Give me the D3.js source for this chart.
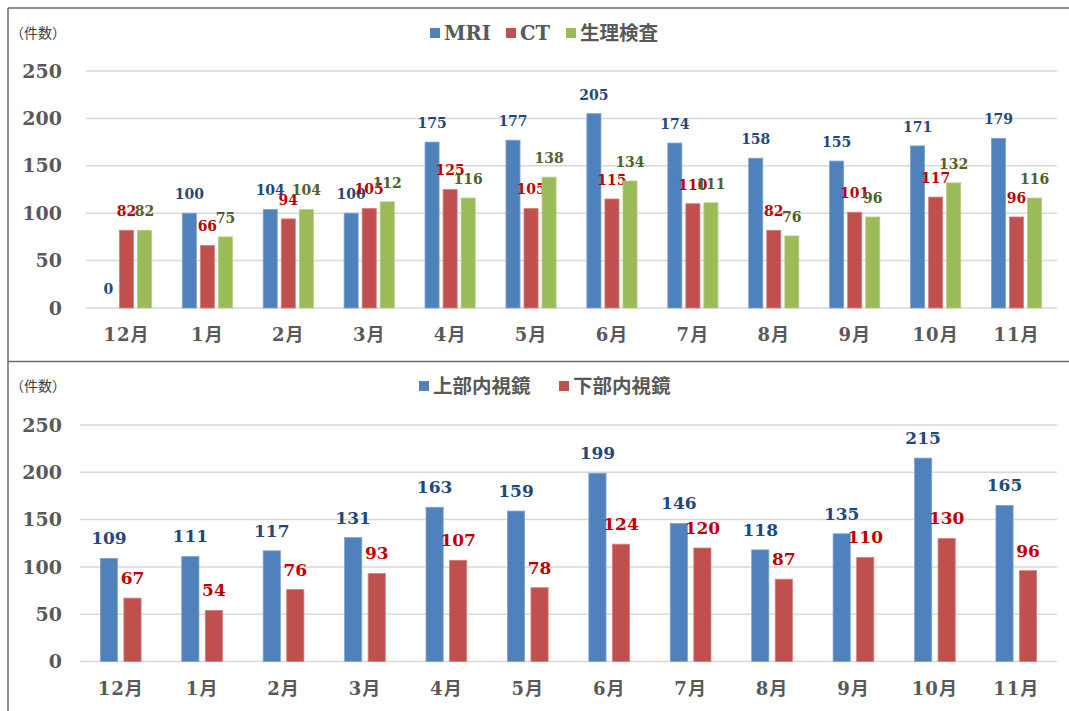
<!DOCTYPE html>
<html>
<head>
<meta charset="utf-8">
<script src="https://cdn.jsdelivr.net/npm/d3@7"></script>
<style>
  body { margin: 0; background: #fff; }
  svg { display: block; }
</style>
</head>
<body>
<svg id="chart"></svg>
<script>
// Data
const months = ['12月', '1月', '2月', '3月', '4月', '5月', '6月', '7月', '8月', '9月', '10月', '11月'];
const yTicks = [0, 50, 100, 150, 200, 250];

const mri = [0, 100, 104, 100, 175, 177, 205, 174, 158, 155, 171, 179];
const ct = [82, 66, 94, 105, 125, 105, 115, 110, 82, 101, 117, 96];
const physio = [82, 75, 104, 112, 116, 138, 134, 111, 76, 96, 132, 116];

const upperScope = [109, 111, 117, 131, 163, 159, 199, 146, 118, 135, 215, 165];
const lowerScope = [67, 54, 76, 93, 107, 78, 124, 120, 87, 110, 130, 96];

const W = 1069, H = 711;
const serif = "'DejaVu Serif', 'Noto Sans CJK JP', serif";
const gothic = "'Noto Sans CJK JP', sans-serif";
const axisGrey = '#595959';

const svg = d3.select('#chart').attr('width', W).attr('height', H);

function drawChart(opts) {
    const g = svg.append('g');

    const x0 = d3.scaleBand()
        .domain(months)
        .range([opts.left, opts.right])
        .paddingInner(opts.groupPad)
        .paddingOuter(opts.groupPad / 2);

    const x1 = d3.scaleBand()
        .domain(opts.series.map(s => s.name))
        .range([0, x0.bandwidth()])
        .paddingInner(opts.barPad);

    const y = d3.scaleLinear()
        .domain([0, 250])
        .range([opts.bottom, opts.top]);

    // gridlines
    g.append('g')
        .selectAll('line')
        .data(yTicks)
        .join('line')
        .attr('x1', opts.left)
        .attr('x2', opts.right)
        .attr('y1', d => y(d))
        .attr('y2', d => y(d))
        .attr('stroke', '#d9d9d9')
        .attr('stroke-width', 1.5);

    // y tick labels
    g.append('g')
        .selectAll('text')
        .data(yTicks)
        .join('text')
        .attr('x', 62)
        .attr('y', d => y(d))
        .attr('dy', '0.35em')
        .attr('text-anchor', 'end')
        .attr('font-family', serif)
        .attr('font-weight', 'bold')
        .attr('font-size', 19)
        .attr('fill', axisGrey)
        .text(d => d);

    // month labels
    g.append('g')
        .selectAll('text')
        .data(months)
        .join('text')
        .attr('x', d => x0(d) + x0.bandwidth() / 2)
        .attr('y', opts.bottom + 27)
        .attr('dy', '0.35em')
        .attr('text-anchor', 'middle')
        .attr('font-family', serif)
        .attr('font-weight', 'bold')
        .attr('font-size', 18)
        .attr('letter-spacing', 1)
        .attr('fill', axisGrey)
        .text(d => d);

    // bars + labels
    opts.series.forEach(s => {
        const sg = g.append('g');
        const rows = months.map((m, i) => ({ m, v: s.values[i] }));

        sg.selectAll('rect')
            .data(rows)
            .join('rect')
            .attr('x', d => x0(d.m) + x1(s.name))
            .attr('y', d => y(d.v))
            .attr('width', x1.bandwidth())
            .attr('height', d => y(0) - y(d.v))
            .attr('fill', s.color)
            .attr('stroke', s.edge)
            .attr('stroke-width', 0.8);

        sg.selectAll('text')
            .data(rows)
            .join('text')
            .attr('x', d => x0(d.m) + x1(s.name) + x1.bandwidth() / 2)
            .attr('y', d => y(d.v) - opts.labelGap)
            .attr('dy', '0.35em')
            .attr('text-anchor', 'middle')
            .attr('font-family', serif)
            .attr('font-weight', 'bold')
            .attr('font-size', opts.labelSize)
            .attr('fill', s.labelColor)
            .text(d => d.v);
    });

    // unit label
    g.append('text')
        .attr('x', 10)
        .attr('y', opts.legendY)
        .attr('dy', '0.35em')
        .attr('font-family', gothic)
        .attr('font-size', 14)
        .attr('fill', '#404040')
        .text('（件数）');

    // legend
    const lg = g.append('g');
    opts.series.forEach((s, i) => {
        const lx = opts.legendX[i];
        lg.append('rect')
            .attr('x', lx)
            .attr('y', opts.legendY - 5)
            .attr('width', 10)
            .attr('height', 10)
            .attr('fill', s.color);
        lg.append('text')
            .attr('x', lx + 14)
            .attr('y', opts.legendY)
            .attr('dy', '0.35em')
            .attr('font-family', serif)
            .attr('font-weight', 'bold')
            .attr('font-size', 19.5)
            .attr('fill', axisGrey)
            .text(s.name);
    });
}

drawChart({
    left: 86, right: 1057, top: 71, bottom: 308,
    groupPad: 0.38, barPad: 0.22,
    labelGap: 19, labelSize: 14,
    legendY: 33, legendX: [430, 506, 566],
    series: [
        { name: 'MRI', values: mri, color: '#4f81bd', edge: '#7fa3d0', labelColor: '#1f497d' },
        { name: 'CT', values: ct, color: '#c0504d', edge: '#d4807e', labelColor: '#c00000' },
        { name: '生理検査', values: physio, color: '#9bbb59', edge: '#b6cf85', labelColor: '#4f6228' }
    ]
});

drawChart({
    left: 80, right: 1057, top: 425, bottom: 661.5,
    groupPad: 0.5, barPad: 0.27,
    labelGap: 20, labelSize: 17,
    legendY: 386, legendX: [419, 559],
    series: [
        { name: '上部内視鏡', values: upperScope, color: '#4f81bd', edge: '#7fa3d0', labelColor: '#1f497d' },
        { name: '下部内視鏡', values: lowerScope, color: '#c0504d', edge: '#d4807e', labelColor: '#c00000' }
    ]
});

// frame
const frame = svg.append('g').attr('stroke', '#6b6b6b').attr('stroke-width', 1.5);
frame.append('line').attr('x1', 8).attr('x2', W).attr('y1', 8).attr('y2', 8);
frame.append('line').attr('x1', 8).attr('x2', 8).attr('y1', 8).attr('y2', H);
frame.append('line').attr('x1', 8).attr('x2', W).attr('y1', 361.5).attr('y2', 361.5);
</script>
</body>
</html>
